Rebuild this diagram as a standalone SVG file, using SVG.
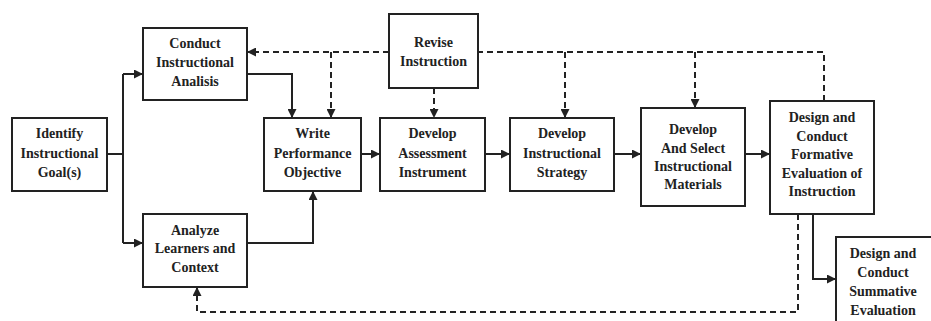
<svg xmlns="http://www.w3.org/2000/svg" width="931" height="321" viewBox="0 0 931 321">
<style>
.box{fill:#fff;stroke:#222;stroke-width:2}
text{font-family:'Liberation Serif','DejaVu Serif',serif;font-weight:700;font-size:14px;fill:#222;text-anchor:middle}
.s{fill:none;stroke:#222;stroke-width:2}
.d{fill:none;stroke:#222;stroke-width:2;stroke-dasharray:6 4}
</style>
<defs>
<marker id="a" viewBox="0 0 10 10" refX="10" refY="5" markerWidth="4.5" markerHeight="4.5" orient="auto" markerUnits="strokeWidth">
<path d="M0,0 L10,5 L0,10 z" fill="#222"/>
</marker>
</defs>
<rect width="931" height="321" fill="#fff"/>
<g id="connectors">
<path class="s" d="M107,154 H123"/>
<path class="s" d="M123,74 V243"/>
<path class="s" d="M123,74 H143" marker-end="url(#a)"/>
<path class="s" d="M123,243 H143" marker-end="url(#a)"/>
<path class="s" d="M247,74 H292 V118" marker-end="url(#a)"/>
<path class="s" d="M247,243 H313 V191" marker-end="url(#a)"/>
<path class="s" d="M361,154 H380" marker-end="url(#a)"/>
<path class="s" d="M485,154 H510" marker-end="url(#a)"/>
<path class="s" d="M614,154 H641" marker-end="url(#a)"/>
<path class="s" d="M745,154 H770" marker-end="url(#a)"/>
<path class="s" d="M813,214 V279 H836" marker-end="url(#a)"/>
<path class="d" d="M389,52 H247" marker-end="url(#a)"/>
<path class="d" d="M824,101 V52 H478"/>
<path class="d" d="M331,52 V118" marker-end="url(#a)"/>
<path class="d" d="M434,88 V118" marker-end="url(#a)"/>
<path class="d" d="M565,52 V118" marker-end="url(#a)"/>
<path class="d" d="M695,52 V108" marker-end="url(#a)"/>
<path class="d" d="M798,214 V312 H197 V287" marker-end="url(#a)"/>
</g>
<g id="identify">
<rect class="box" x="12" y="118" width="95" height="73"/>
<text x="59.5" y="138">Identify</text>
<text x="59.5" y="158">Instructional</text>
<text x="59.5" y="177">Goal(s)</text>
</g>
<g id="conduct">
<rect class="box" x="143" y="28" width="104" height="72"/>
<text x="195" y="48">Conduct</text>
<text x="195" y="67">Instructional</text>
<text x="195" y="86">Analisis</text>
</g>
<g id="analyze">
<rect class="box" x="143" y="214" width="104" height="73"/>
<text x="195" y="235">Analyze</text>
<text x="195" y="253">Learners and</text>
<text x="195" y="272">Context</text>
</g>
<g id="revise">
<rect class="box" x="389" y="14" width="89" height="74"/>
<text x="433.5" y="47">Revise</text>
<text x="433.5" y="66">Instruction</text>
</g>
<g id="write">
<rect class="box" x="264" y="118" width="97" height="73"/>
<text x="312.5" y="138">Write</text>
<text x="312.5" y="158">Performance</text>
<text x="312.5" y="177">Objective</text>
</g>
<g id="assessment">
<rect class="box" x="380" y="118" width="105" height="73"/>
<text x="432.5" y="138">Develop</text>
<text x="432.5" y="158">Assessment</text>
<text x="432.5" y="177">Instrument</text>
</g>
<g id="strategy">
<rect class="box" x="510" y="118" width="104" height="73"/>
<text x="562" y="138">Develop</text>
<text x="562" y="158">Instructional</text>
<text x="562" y="177">Strategy</text>
</g>
<g id="materials">
<rect class="box" x="641" y="108" width="104" height="98"/>
<text x="693" y="134">Develop</text>
<text x="693" y="153">And Select</text>
<text x="693" y="171">Instructional</text>
<text x="693" y="189">Materials</text>
</g>
<g id="formative">
<rect class="box" x="770" y="101" width="104" height="113"/>
<text x="822" y="122">Design and</text>
<text x="822" y="141">Conduct</text>
<text x="822" y="159">Formative</text>
<text x="822" y="178">Evaluation of</text>
<text x="822" y="196">Instruction</text>
</g>
<g id="summative">
<rect class="box" x="836" y="237" width="100" height="100"/>
<text x="883" y="258">Design and</text>
<text x="883" y="277">Conduct</text>
<text x="883" y="296">Summative</text>
<text x="883" y="315">Evaluation</text>
</g>
</svg>
